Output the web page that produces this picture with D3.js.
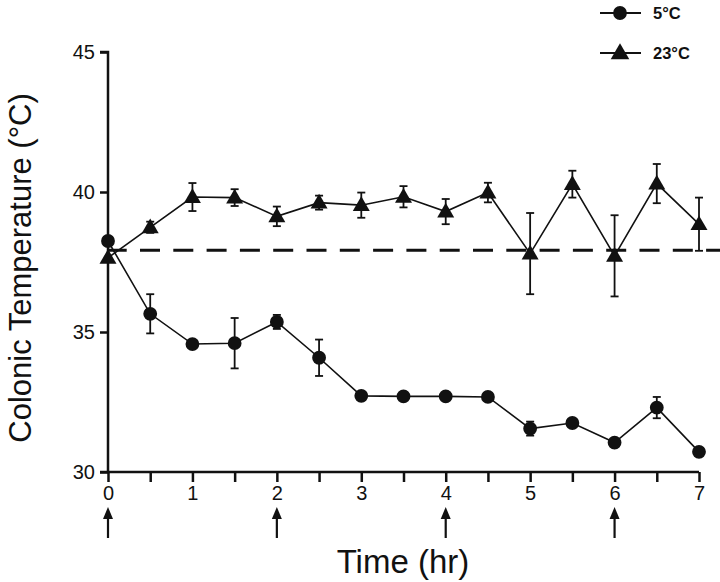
<!DOCTYPE html>
<html><head><meta charset="utf-8">
<script src="https://cdn.jsdelivr.net/npm/d3@7"></script>
<style>body{margin:0;background:#fff}svg{display:block}text{font-family:"Liberation Sans",Arial,Helvetica,sans-serif;fill:#111}</style>
</head><body>
<script>
const times = [0,0.5,1,1.5,2,2.5,3,3.5,4,4.5,5,5.5,6,6.5,7];
const cold = [38.25,35.65,34.57,34.6,35.36,34.08,32.72,32.7,32.7,32.68,31.55,31.75,31.05,32.3,30.72];
const coldErr = [0,0.7,0,0.9,0.25,0.65,0,0,0,0,0.25,0,0,0.38,0];
const warm = [37.65,38.74,39.82,39.8,39.13,39.62,39.53,39.83,39.3,39.98,37.8,40.28,37.72,40.3,38.85];
const warmErr = [0,0.2,0.5,0.3,0.35,0.25,0.45,0.38,0.45,0.35,1.45,0.48,1.45,0.7,0.95];
const baseline = 37.92;
const yTicks = [30,35,40,45];
const xMinorTicks = [0,0.5,1,1.5,2,2.5,3,3.5,4,4.5,5,5.5,6,6.5,7];
const injectionTimes = [0,2,4,6];
const legendItems = ["5°C","23°C"];

const W=720,H=582;
const svg=d3.select("body").append("svg").attr("width",W).attr("height",H);
const x=d3.scaleLinear().domain([0,7]).range([108,699]);
const y=d3.scaleLinear().domain([30,45]).range([472,52]);

// axes
const yAxis=svg.append("g").attr("transform","translate(108,0)")
  .call(d3.axisLeft(y).tickValues(yTicks).tickSize(8).tickPadding(5).tickFormat(d3.format("d")));
const xAxis=svg.append("g").attr("transform","translate(0,472)")
  .call(d3.axisBottom(x).tickValues(xMinorTicks).tickSize(10).tickPadding(4)
    .tickFormat(d=>Number.isInteger(d)?d:""));
[yAxis,xAxis].forEach(g=>{
  g.select(".domain").attr("stroke","#111").attr("stroke-width",2.5);
  g.selectAll(".tick line").attr("stroke","#111").attr("stroke-width",2.5);
  g.selectAll(".tick text").style("font-size","20px").attr("fill","#111");
});
yAxis.select(".domain").attr("d",`M-8,${y(45)}H0V${y(30)}H-8`);
xAxis.select(".domain").attr("d",`M${x(0)},0H${x(7)}`);

// baseline dashed
svg.append("line").attr("x1",x(0)).attr("x2",W).attr("y1",y(baseline)).attr("y2",y(baseline))
  .attr("stroke","#111").attr("stroke-width",3).attr("stroke-dasharray","20,13.3").attr("stroke-dashoffset",1.3);

function series(vals,errs,shape){
  const g=svg.append("g");
  const line=d3.line().x((d,i)=>x(times[i])).y(d=>y(d));
  g.append("path").attr("d",line(vals)).attr("fill","none").attr("stroke","#111").attr("stroke-width",1.6);
  vals.forEach((v,i)=>{
    const e=errs[i]; if(!e) return;
    const cx=x(times[i]);
    g.append("line").attr("x1",cx).attr("x2",cx).attr("y1",y(v+e)).attr("y2",y(v-e)).attr("stroke","#111").attr("stroke-width",1.8);
    [v+e,v-e].forEach(t=>g.append("line").attr("x1",cx-4).attr("x2",cx+4).attr("y1",y(t)).attr("y2",y(t)).attr("stroke","#111").attr("stroke-width",1.8));
  });
  const sym=d3.symbol().type(shape==="circle"?d3.symbolCircle:d3.symbolTriangle).size(shape==="circle"?150:125);
  vals.forEach((v,i)=>{
    g.append("path").attr("d",sym()).attr("transform",`translate(${x(times[i])},${y(v)+(shape==="circle"?0:1)})`).attr("fill","#111");
  });
}
series(warm,warmErr,"triangle");
series(cold,coldErr,"circle");

// arrows
injectionTimes.forEach(t=>{
  const cx=x(t);
  svg.append("line").attr("x1",cx).attr("x2",cx).attr("y1",516).attr("y2",538).attr("stroke","#111").attr("stroke-width",2.2);
  svg.append("path").attr("d",`M${cx-5},519L${cx},507L${cx+5},519Z`).attr("fill","#111");
});

// titles
svg.append("text").attr("x",403).attr("y",573).attr("text-anchor","middle").style("font-size","33px").text("Time (hr)");
svg.append("text").attr("transform","translate(31,268) rotate(-90)").attr("text-anchor","middle").style("font-size","31px").text("Colonic Temperature (°C)");

// legend
legendItems.forEach((lab,i)=>{
  const ly=13+i*40;
  svg.append("line").attr("x1",600).attr("x2",641).attr("y1",ly).attr("y2",ly).attr("stroke","#111").attr("stroke-width",2);
  const sym=d3.symbol().type(i===0?d3.symbolCircle:d3.symbolTriangle).size(i===0?150:150);
  svg.append("path").attr("d",sym()).attr("transform",`translate(620,${ly+(i===0?0:1)})`).attr("fill","#111");
  svg.append("text").attr("x",653).attr("y",ly+6).style("font-size","16.5px").style("font-weight","bold").text(lab);
});
</script>
</body></html>
